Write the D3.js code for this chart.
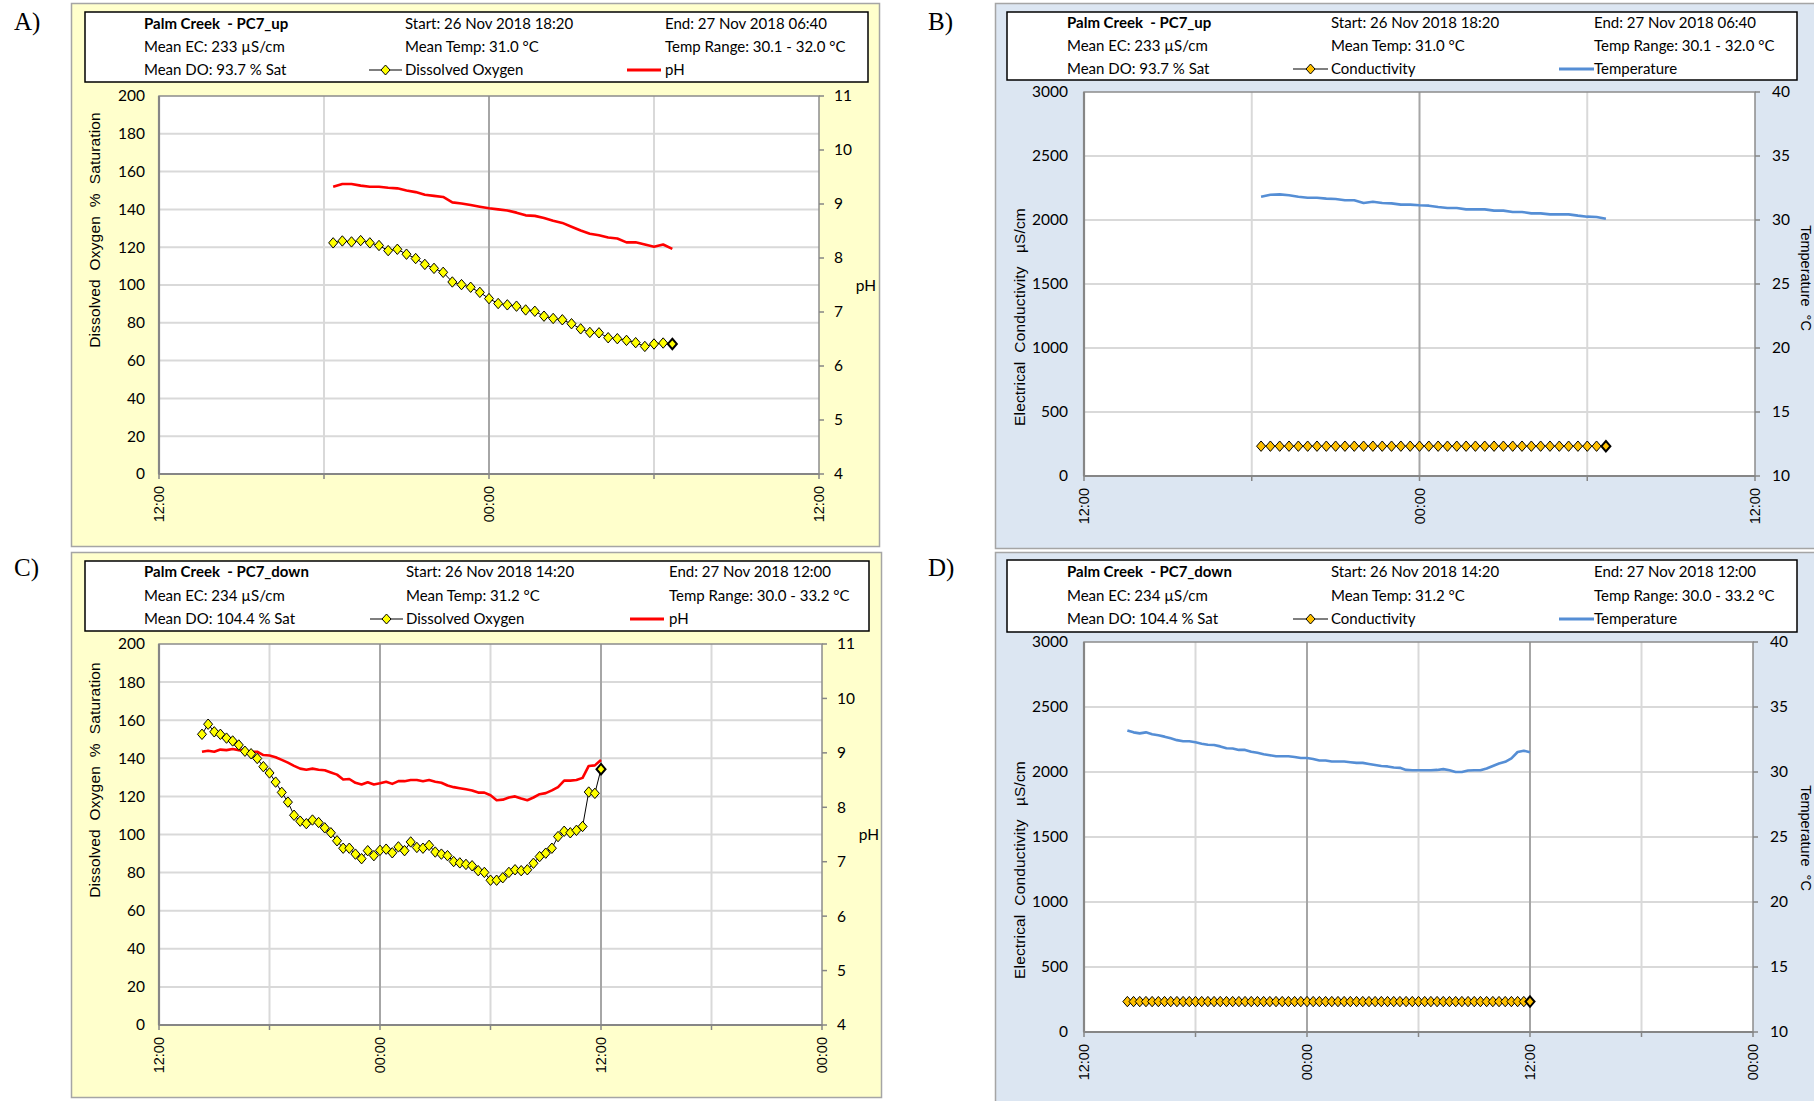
<!DOCTYPE html>
<html><head><meta charset="utf-8">
<script src="https://cdn.jsdelivr.net/npm/d3@7"></script>
<style>body{margin:0;background:#fff}svg{display:block}</style>
</head><body>
<svg id="chart" width="1814" height="1101"></svg>
<script>
// ---------------- DATA ----------------
// Panel headers
const headerUp = ["Palm Creek  - PC7_up", "Start: 26 Nov 2018 18:20", "End: 27 Nov 2018 06:40",
  "Mean EC: 233 µS/cm", "Mean Temp: 31.0 °C", "Temp Range: 30.1 - 32.0 °C", "Mean DO: 93.7 % Sat"];
const headerDown = ["Palm Creek  - PC7_down", "Start: 26 Nov 2018 14:20", "End: 27 Nov 2018 12:00",
  "Mean EC: 234 µS/cm", "Mean Temp: 31.2 °C", "Temp Range: 30.0 - 33.2 °C", "Mean DO: 104.4 % Sat"];
const seriesNamesQual = ["Dissolved Oxygen", "pH"];
const seriesNamesPhys = ["Conductivity", "Temperature"];
const panelLetters = ["A)", "B)", "C)", "D)"];
const axisTitles = ["Dissolved  Oxygen  %  Saturation", "pH", "Electrical  Conductivity   µS/cm", "Temperature  °C"];

// sampling (20-minute logging interval)
const startUp = "2018-11-26T18:20:00";
const startDown = "2018-11-26T14:20:00";
const stepMinutes = 20;
const domainUp = ["2018-11-26T12:00:00", "2018-11-27T12:00:00"];
const domainDown = ["2018-11-26T12:00:00", "2018-11-28T00:00:00"];

// y-axis ticks
const doTicks = [0, 20, 40, 60, 80, 100, 120, 140, 160, 180, 200];
const phTicks = [4, 5, 6, 7, 8, 9, 10, 11];
const ecTicks = [0, 500, 1000, 1500, 2000, 2500, 3000];
const tempTicks = [10, 15, 20, 25, 30, 35, 40];

// PC7_up
const doUp = [122.3, 123.3, 122.8, 123.5, 122.3, 120.9, 118.2, 118.9, 116.3, 114.0,
  110.9, 108.8, 106.7, 101.6, 100.2, 98.8, 96.1, 92.8, 90.2, 89.5,
  88.8, 86.8, 86.1, 83.5, 82.3, 81.6, 79.5, 76.8, 74.9, 74.7,
  72.1, 71.6, 70.7, 69.5, 67.5, 68.8, 69.3, 68.8];
const phUp = [9.32, 9.37, 9.37, 9.34, 9.32, 9.32, 9.30, 9.29, 9.25, 9.22,
  9.17, 9.15, 9.13, 9.03, 9.01, 8.98, 8.95, 8.92, 8.90, 8.88,
  8.84, 8.79, 8.78, 8.74, 8.69, 8.65, 8.58, 8.51, 8.45, 8.42,
  8.38, 8.36, 8.29, 8.29, 8.25, 8.21, 8.25, 8.17];
const ecUp = [233, 233, 233, 233, 233, 233, 233, 233, 233, 233,
  233, 233, 233, 233, 233, 233, 233, 233, 233, 233,
  233, 233, 233, 233, 233, 233, 233, 233, 233, 233,
  233, 233, 233, 233, 233, 233, 233, 233];
const tempUp = [31.82, 31.97, 32.00, 31.93, 31.82, 31.74, 31.74, 31.67, 31.64, 31.54,
  31.54, 31.33, 31.43, 31.33, 31.30, 31.20, 31.20, 31.15, 31.12, 31.02,
  30.94, 30.94, 30.83, 30.83, 30.83, 30.73, 30.73, 30.63, 30.63, 30.52,
  30.52, 30.44, 30.44, 30.44, 30.34, 30.26, 30.23, 30.10];

// PC7_down
const doDown = [152.6, 157.9, 153.9, 152.6, 150.6, 149.1, 147.0, 143.7, 142.4, 139.9,
  135.6, 132.3, 127.5, 122.1, 117.0, 110.1, 107.0, 105.7, 107.6, 106.3,
  103.5, 100.9, 96.7, 92.8, 92.8, 89.7, 87.3, 91.5, 88.9, 91.7,
  92.3, 90.4, 93.5, 91.5, 96.1, 93.2, 92.8, 94.3, 90.8, 89.7,
  88.9, 85.8, 85.1, 84.3, 83.6, 81.0, 80.1, 76.0, 76.0, 77.3,
  80.1, 81.5, 81.0, 81.5, 84.9, 88.4, 90.2, 92.8, 98.9, 101.7,
  100.9, 102.2, 104.2, 122.3, 121.6, 134.3];
const phDown = [9.02, 9.04, 9.02, 9.06, 9.05, 9.07, 9.05, 9.04, 9.02, 9.02,
  8.96, 8.95, 8.92, 8.87, 8.82, 8.76, 8.71, 8.69, 8.71, 8.69,
  8.68, 8.64, 8.60, 8.51, 8.52, 8.45, 8.42, 8.46, 8.42, 8.44,
  8.47, 8.43, 8.48, 8.48, 8.50, 8.50, 8.48, 8.50, 8.47, 8.45,
  8.40, 8.37, 8.35, 8.33, 8.31, 8.27, 8.27, 8.22, 8.13, 8.14,
  8.18, 8.20, 8.16, 8.13, 8.18, 8.24, 8.26, 8.31, 8.37, 8.49,
  8.49, 8.50, 8.54, 8.76, 8.77, 8.87];
const ecDown = [234, 234, 234, 234, 234, 234, 234, 234, 234, 234,
  234, 234, 234, 234, 234, 234, 234, 234, 234, 234,
  234, 234, 234, 234, 234, 234, 234, 234, 234, 234,
  234, 234, 234, 234, 234, 234, 234, 234, 234, 234,
  234, 234, 234, 234, 234, 234, 234, 234, 234, 234,
  234, 234, 234, 234, 234, 234, 234, 234, 234, 234,
  234, 234, 234, 234, 234, 234];
const tempDown = [33.20, 33.05, 32.97, 33.05, 32.91, 32.83, 32.72, 32.59, 32.45, 32.37,
  32.37, 32.29, 32.18, 32.10, 32.08, 31.97, 31.83, 31.81, 31.70, 31.70,
  31.56, 31.48, 31.37, 31.29, 31.21, 31.21, 31.21, 31.16, 31.08, 31.08,
  31.00, 30.89, 30.89, 30.81, 30.81, 30.81, 30.75, 30.70, 30.70, 30.62,
  30.54, 30.46, 30.43, 30.35, 30.32, 30.16, 30.13, 30.13, 30.13, 30.13,
  30.16, 30.22, 30.13, 30.00, 30.00, 30.11, 30.13, 30.13, 30.27, 30.46,
  30.65, 30.78, 31.05, 31.54, 31.64, 31.51];

// ---------------- DRAWING ----------------
const svg = d3.select("#chart");
const parse = d3.isoParse;
const times = (start, n) => d3.range(n).map(i => d3.timeMinute.offset(parse(start), i * stepMinutes));
const fmt = d3.timeFormat("%H:%M");
const LEG_FONT = "Lato, 'Noto Sans', sans-serif";
const ARIAL = "'Liberation Sans', Arial, sans-serif";

function diamond(sel, w, h) {
  return sel.attr("d", `M0,${-h}L${w},0L0,${h}L${-w},0Z`);
}

function drawPanel(c) {
  const g = svg.append("g");
  // background
  g.append("rect").attr("x", c.bg[0] + 0.5).attr("y", c.bg[1] + 0.5).attr("width", c.bg[2]).attr("height", c.bg[3])
    .attr("fill", c.bgColor).attr("stroke", "#a5a5a5").attr("stroke-width", 1.5);
  // panel letter
  g.append("text").attr("x", c.letterPos[0]).attr("y", c.letterPos[1]).text(c.letter)
    .attr("font-family", "'Liberation Serif', 'Times New Roman', serif").attr("font-size", 25).attr("fill", "#000");
  // legend box
  const L = c.legend;
  g.append("rect").attr("x", L.x).attr("y", L.y).attr("width", L.w).attr("height", L.h)
    .attr("fill", "#fff").attr("stroke", "#000").attr("stroke-width", 1.5);
  const rowY = L.rows;
  const cols = L.cols;
  const hdr = c.header;
  const cells = [[hdr[0], cols[0], rowY[0], true], [hdr[1], cols[1], rowY[0]], [hdr[2], cols[2], rowY[0]],
    [hdr[3], cols[0], rowY[1]], [hdr[4], cols[1], rowY[1]], [hdr[5], cols[2], rowY[1]],
    [hdr[6], cols[0], rowY[2]], [c.names[0], cols[1], rowY[2]], [c.names[1], cols[2], rowY[2]]];
  g.selectAll(null).data(cells).join("text")
    .attr("x", d => d[1]).attr("y", d => d[2]).attr("dy", "0.36em")
    .attr("font-family", LEG_FONT).attr("font-size", 15).attr("font-weight", d => d[3] ? 700 : 400)
    .attr("fill", "#000").style("white-space", "pre").text(d => d[0]);
  // legend symbols
  g.append("line").attr("x1", L.sym1[0]).attr("x2", L.sym1[1]).attr("y1", rowY[2]).attr("y2", rowY[2])
    .attr("stroke", "#000").attr("stroke-width", 1.2);
  g.append("path").call(diamond, 4.5, 5).attr("transform", `translate(${(L.sym1[0] + L.sym1[1]) / 2},${rowY[2]})`)
    .attr("fill", c.markerColor).attr("stroke", "#000").attr("stroke-width", 1);
  g.append("line").attr("x1", L.sym2[0]).attr("x2", L.sym2[1]).attr("y1", rowY[2]).attr("y2", rowY[2])
    .attr("stroke", c.lineColor).attr("stroke-width", 3);

  // plot
  const P = c.plot;
  const x = d3.scaleTime().domain(c.domain.map(parse)).range([P.x, P.x + P.w]);
  const yL = d3.scaleLinear().domain(c.yLdomain).range([P.y + P.h, P.y]);
  const yR = d3.scaleLinear().domain(c.yRdomain).range([P.y + P.h, P.y]);
  g.append("rect").attr("x", P.x).attr("y", P.y).attr("width", P.w).attr("height", P.h).attr("fill", "#fff");

  const xTicks = d3.timeHour.every(6).range(x.domain()[0], d3.timeMinute.offset(x.domain()[1], 1));
  // horizontal gridlines
  g.selectAll(null).data(c.yLticks.slice(1, -1)).join("line")
    .attr("x1", P.x).attr("x2", P.x + P.w).attr("y1", d => yL(d)).attr("y2", d => yL(d))
    .attr("stroke", "#d9d9d9").attr("stroke-width", 2);
  // vertical gridlines
  g.selectAll(null).data(xTicks.slice(1, -1)).join("line")
    .attr("x1", d => x(d)).attr("x2", d => x(d)).attr("y1", P.y).attr("y2", P.y + P.h)
    .attr("stroke", d => d.getHours() % 12 === 0 ? "#a6a6a6" : "#d9d9d9").attr("stroke-width", 2);
  // border
  g.append("rect").attr("x", P.x).attr("y", P.y).attr("width", P.w).attr("height", P.h)
    .attr("fill", "none").attr("stroke", "#8c8c8c").attr("stroke-width", 1.5);
  g.append("line").attr("x1", P.x).attr("x2", P.x).attr("y1", P.y).attr("y2", P.y + P.h).attr("stroke", "#868686").attr("stroke-width", 2.2);
  g.append("line").attr("x1", P.x).attr("x2", P.x + P.w).attr("y1", P.y + P.h).attr("y2", P.y + P.h).attr("stroke", "#868686").attr("stroke-width", 2.2);
  // x ticks
  g.selectAll(null).data(xTicks).join("line")
    .attr("x1", d => x(d)).attr("x2", d => x(d)).attr("y1", P.y + P.h).attr("y2", P.y + P.h + 5)
    .attr("stroke", "#868686").attr("stroke-width", 1.5);
  g.selectAll(null).data(xTicks.filter(d => d.getHours() % 12 === 0)).join("text")
    .attr("transform", d => `translate(${x(d)},${P.y + P.h + 12}) rotate(-90)`)
    .attr("text-anchor", "end").attr("dy", "0.35em")
    .attr("font-family", ARIAL).attr("font-size", 14.5).attr("fill", "#000").text(d => fmt(d));
  // right ticks
  g.selectAll(null).data(c.yRticks).join("line")
    .attr("x1", P.x + P.w).attr("x2", P.x + P.w + 5).attr("y1", d => yR(d)).attr("y2", d => yR(d))
    .attr("stroke", "#868686").attr("stroke-width", 1.5);
  // tick labels
  g.selectAll(null).data(c.yLticks).join("text")
    .attr("x", P.x - c.lGap).attr("y", d => yL(d)).attr("dy", "0.35em").attr("text-anchor", "end")
    .attr("font-family", LEG_FONT).attr("font-size", 15.5).attr("fill", "#000").text(d => d);
  g.selectAll(null).data(c.yRticks).join("text")
    .attr("x", P.x + P.w + c.rGap).attr("y", d => yR(d)).attr("dy", "0.35em").attr("text-anchor", "start")
    .attr("font-family", LEG_FONT).attr("font-size", 15.5).attr("fill", "#000").text(d => d);
  // axis titles
  g.append("text").attr("transform", `translate(${c.lTitle[0]},${c.lTitle[1]}) rotate(-90)`)
    .attr("text-anchor", "middle").attr("dy", "0.35em").attr("font-family", ARIAL).attr("font-size", 15.5)
    .attr("letter-spacing", 0.15).style("white-space", "pre").attr("fill", "#000").text(c.lTitleText);
  if (c.rTitleRot) {
    g.append("text").attr("transform", `translate(${c.rTitle[0]},${c.rTitle[1]}) rotate(90)`)
      .attr("text-anchor", "middle").attr("dy", "0.35em").attr("font-family", ARIAL).attr("font-size", 14.5)
      .style("white-space", "pre").attr("fill", "#000").text(c.rTitleText);
  } else {
    g.append("text").attr("x", c.rTitle[0]).attr("y", c.rTitle[1]).attr("dy", "0.35em")
      .attr("text-anchor", "middle").attr("font-family", LEG_FONT).attr("font-size", 15.5)
      .attr("fill", "#000").text(c.rTitleText);
  }

  // series
  const t = times(c.start, c.left.length);
  const ptsL = c.left.map((v, i) => [x(t[i]), yL(v)]);
  const ptsR = c.right.map((v, i) => [x(t[i]), yR(v)]);
  g.append("path").attr("d", d3.line()(ptsR)).attr("fill", "none")
    .attr("stroke", c.lineColor).attr("stroke-width", 2.6).attr("stroke-linejoin", "round");
  g.append("path").attr("d", d3.line()(ptsL)).attr("fill", "none")
    .attr("stroke", "#000").attr("stroke-width", 1);
  g.selectAll(null).data(ptsL).join("path")
    .call(diamond, 4.5, 5.2)
    .attr("transform", d => `translate(${d[0]},${d[1]})`)
    .attr("fill", c.markerColor).attr("stroke", "#000")
    .attr("stroke-width", (d, i) => i === ptsL.length - 1 ? 2 : 1);
}

const YEL = "#ffffcc", BLU = "#dce6f2";

drawPanel({
  letter: panelLetters[0], letterPos: [14, 30], bg: [71, 3, 808, 543], bgColor: YEL,
  legend: { x: 85, y: 12, w: 783, h: 70, rows: [24, 47, 70], cols: [144, 405, 665], sym1: [369, 402], sym2: [627, 661] },
  header: headerUp, names: seriesNamesQual, markerColor: "#ffff00", lineColor: "#ff0000",
  plot: { x: 159, y: 96, w: 660, h: 378 }, domain: domainUp,
  yLdomain: [0, 200], yRdomain: [4, 11], yLticks: doTicks, yRticks: phTicks, lGap: 14, rGap: 15,
  lTitle: [95, 230], lTitleText: axisTitles[0], rTitle: [866, 286], rTitleText: axisTitles[1], rTitleRot: false,
  start: startUp, left: doUp, right: phUp
});
drawPanel({
  letter: panelLetters[1], letterPos: [928, 30], bg: [995, 3, 830, 545], bgColor: BLU,
  legend: { x: 1007, y: 12, w: 790, h: 68, rows: [23, 46, 69], cols: [1067, 1331, 1594], sym1: [1293, 1328], sym2: [1559, 1594] },
  header: headerUp, names: seriesNamesPhys, markerColor: "#ffc000", lineColor: "#558ed5",
  plot: { x: 1084, y: 92, w: 671, h: 384 }, domain: domainUp,
  yLdomain: [0, 3000], yRdomain: [10, 40], yLticks: ecTicks, yRticks: tempTicks, lGap: 16, rGap: 17,
  lTitle: [1020, 317], lTitleText: axisTitles[2], rTitle: [1806, 278], rTitleText: axisTitles[3], rTitleRot: true,
  start: startUp, left: ecUp, right: tempUp
});
drawPanel({
  letter: panelLetters[2], letterPos: [14, 576], bg: [71, 552, 810, 545], bgColor: YEL,
  legend: { x: 85, y: 561, w: 784, h: 70, rows: [572, 596, 619], cols: [144, 406, 669], sym1: [370, 403], sym2: [630, 664] },
  header: headerDown, names: seriesNamesQual, markerColor: "#ffff00", lineColor: "#ff0000",
  plot: { x: 159, y: 644, w: 663, h: 381 }, domain: domainDown,
  yLdomain: [0, 200], yRdomain: [4, 11], yLticks: doTicks, yRticks: phTicks, lGap: 14, rGap: 15,
  lTitle: [95, 780], lTitleText: axisTitles[0], rTitle: [869, 835], rTitleText: axisTitles[1], rTitleRot: false,
  start: startDown, left: doDown, right: phDown
});
drawPanel({
  letter: panelLetters[3], letterPos: [928, 576], bg: [995, 552, 830, 560], bgColor: BLU,
  legend: { x: 1007, y: 560, w: 790, h: 72, rows: [572, 596, 619], cols: [1067, 1331, 1594], sym1: [1293, 1328], sym2: [1559, 1594] },
  header: headerDown, names: seriesNamesPhys, markerColor: "#ffc000", lineColor: "#558ed5",
  plot: { x: 1084, y: 642, w: 669, h: 390 }, domain: domainDown,
  yLdomain: [0, 3000], yRdomain: [10, 40], yLticks: ecTicks, yRticks: tempTicks, lGap: 16, rGap: 17,
  lTitle: [1020, 870], lTitleText: axisTitles[2], rTitle: [1806, 838], rTitleText: axisTitles[3], rTitleRot: true,
  start: startDown, left: ecDown, right: tempDown
});
</script>
</body></html>
